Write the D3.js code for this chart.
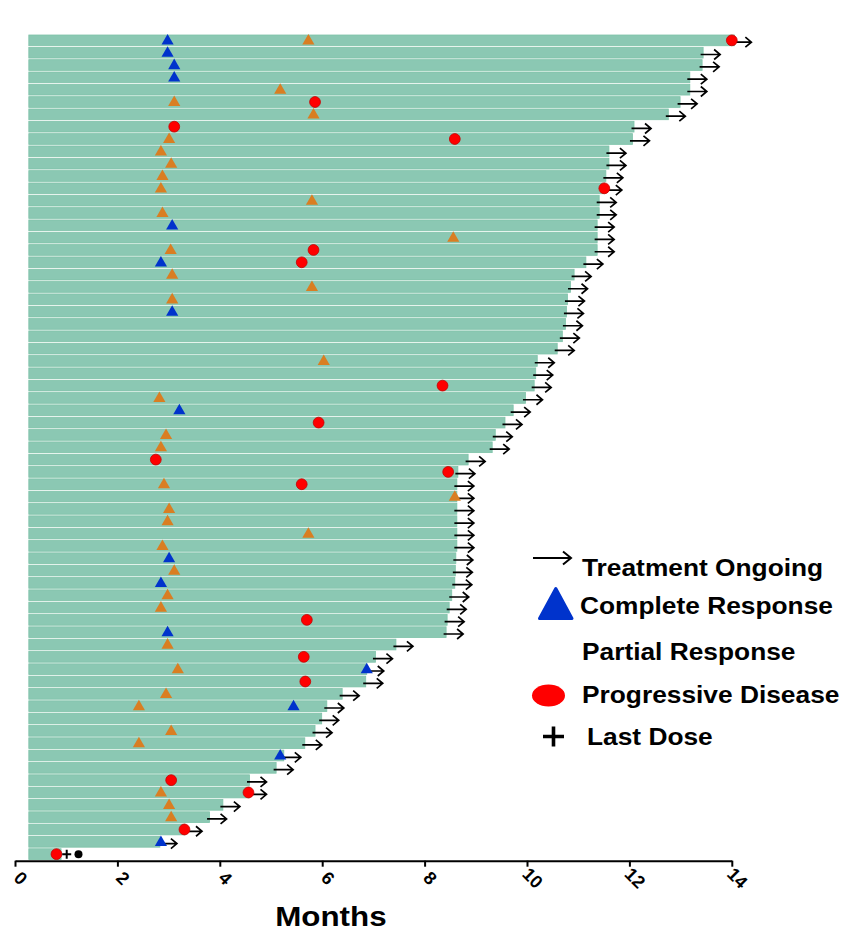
<!DOCTYPE html>
<html>
<head>
<meta charset="utf-8">
<script src="https://cdn.jsdelivr.net/npm/d3@7"></script>
<style>
  html, body { margin: 0; padding: 0; background: #fff; }
  svg { display: block; }
  text { font-family: "Liberation Sans", Arial, Helvetica, sans-serif; font-weight: bold; fill: #000; }
</style>
</head>
<body>
<svg id="chart" width="844" height="932"></svg>
<script>
// Months on study per subject, longest first (one bar per subject)
const duration = [
  14.05, 13.44, 13.42, 13.18, 13.18, 12.99, 12.76, 12.09, 12.06, 11.60,
  11.60, 11.54, 11.52, 11.41, 11.41, 11.37, 11.37, 11.37, 11.15, 10.92,
  10.85, 10.79, 10.77, 10.75, 10.69, 10.59, 10.20, 10.17, 10.14, 9.97,
  9.73, 9.57, 9.38, 9.32, 8.85, 8.65, 8.63, 8.63, 8.63, 8.63,
  8.63, 8.63, 8.61, 8.60, 8.59, 8.53, 8.48, 8.44, 8.42, 7.44,
  7.04, 6.87, 6.85, 6.39, 6.09, 5.99, 5.86, 5.66, 5.25, 5.10,
  4.58, 4.58, 4.06, 3.80, 3.32, 2.83, 0.90
];

// 1 = treatment still ongoing at data cut-off
const ongoing = [
  1,1,1,1,1,1,1,1,1,1, 1,1,1,1,1,1,1,1,1,1,
  1,1,1,1,1,1,1,1,1,1, 1,1,1,1,1,1,1,1,1,1,
  1,1,1,1,1,1,1,1,1,1, 1,1,1,1,1,1,1,1,1,1,
  1,1,1,1,1,1,0
];

// Response events: [subject row, month]
const completeResponse = [
  [0, 2.98], [1, 2.98], [2, 3.11], [3, 3.11], [15, 3.07], [18, 2.85],
  [22, 3.07], [30, 3.21], [42, 3.01], [44, 2.85], [48, 2.98], [51, 6.87],
  [54, 5.44], [58, 5.18], [65, 2.85]
];

const partialResponse = [
  [0, 5.73], [4, 5.18], [5, 3.11], [6, 5.83], [8, 3.01], [9, 2.85],
  [10, 3.05], [11, 2.88], [12, 2.85], [13, 5.80], [14, 2.88], [16, 8.56],
  [17, 3.04], [19, 3.07], [20, 5.80], [21, 3.07], [26, 6.03], [29, 2.82],
  [32, 2.95], [33, 2.85], [36, 2.91], [37, 8.59], [38, 3.01], [39, 2.98],
  [40, 5.73], [41, 2.88], [43, 3.11], [45, 2.98], [46, 2.85], [49, 2.98],
  [51, 3.18], [53, 2.95], [54, 2.42], [56, 3.05], [57, 2.42], [61, 2.85],
  [62, 3.01], [63, 3.05]
];

const progressiveDisease = [
  [0, 14.0], [5, 5.86], [7, 3.11], [8, 8.59], [12, 11.51], [17, 5.83],
  [18, 5.60], [28, 8.35], [31, 5.93], [34, 2.75], [35, 8.46], [36, 5.60],
  [47, 5.70], [50, 5.64], [52, 5.67], [60, 3.05], [61, 4.56], [64, 3.31],
  [66, 0.81]
];

const lastDose = [[66, 1.01]];
const offStudy = [[66, 1.24]];

const barStart = 0.27;   // bars begin just right of the origin
const xTicks = [0, 2, 4, 6, 8, 10, 12, 14];

const legendItems = [
  "Treatment Ongoing",
  "Complete Response",
  "Partial Response",
  "Progressive Disease",
  "Last Dose"
];

// ---- colours
const barFill = "#8bc8b3";
const barEdge = "#7ec2a8";
const crColor = "#0033cc";
const prColor = "#d97e22";
const pdColor = "#ff0000";
const pdEdge  = "#c40000";

const svg = d3.select("#chart");
const stretch = 1.12; // wide bold lettering

const x = d3.scaleLinear().domain([0, 14]).range([15, 731.8]);
const y = d3.scaleBand()
  .domain(d3.range(duration.length))
  .range([35, 859.5])
  .paddingInner(0.13);

const rowMid = i => y(i) + y.bandwidth() / 2;

// ---- bars
svg.append("g").selectAll("rect")
  .data(duration)
  .join("rect")
  .attr("x", x(barStart))
  .attr("y", (d, i) => y(i))
  .attr("width", d => x(d) - x(barStart))
  .attr("height", y.bandwidth())
  .attr("fill", barFill)
  .attr("stroke", barEdge)
  .attr("stroke-width", 0.8);

// ---- ongoing arrows
const arrowG = svg.append("g")
  .attr("stroke", "#000")
  .attr("fill", "none")
  .attr("stroke-width", 1.7)
  .attr("stroke-linecap", "butt");

duration.forEach((d, i) => {
  if (!ongoing[i]) return;
  const x0 = x(d) - 2.5, x1 = x(d) + 17, yy = rowMid(i) + 1.8;
  arrowG.append("path")
    .attr("d", `M${x0},${yy}H${x1}M${x1 - 6},${yy - 5}L${x1},${yy}L${x1 - 6},${yy + 5}`);
});

// ---- response markers
const tri = d3.symbol().type(d3.symbolTriangle).size(64);

svg.append("g").selectAll("path")
  .data(partialResponse)
  .join("path")
  .attr("d", tri)
  .attr("transform", d => `translate(${x(d[1])},${rowMid(d[0]) + 0.6})`)
  .attr("fill", prColor);

svg.append("g").selectAll("path")
  .data(completeResponse)
  .join("path")
  .attr("d", tri)
  .attr("transform", d => `translate(${x(d[1])},${rowMid(d[0]) + 0.6})`)
  .attr("fill", crColor);

svg.append("g").selectAll("circle")
  .data(progressiveDisease)
  .join("circle")
  .attr("cx", d => x(d[1]))
  .attr("cy", d => rowMid(d[0]))
  .attr("r", 5.4)
  .attr("fill", pdColor)
  .attr("stroke", pdEdge)
  .attr("stroke-width", 0.8);

svg.append("g").selectAll("path")
  .data(lastDose)
  .join("path")
  .attr("d", d => {
    const cx = x(d[1]), cy = rowMid(d[0]);
    return `M${cx - 4.5},${cy}H${cx + 4.5}M${cx},${cy - 4.5}V${cy + 4.5}`;
  })
  .attr("stroke", "#000")
  .attr("stroke-width", 2);

svg.append("g").selectAll("circle")
  .data(offStudy)
  .join("circle")
  .attr("cx", d => x(d[1]))
  .attr("cy", d => rowMid(d[0]))
  .attr("r", 4)
  .attr("fill", "#000");

// ---- x axis
const axis = svg.append("g")
  .attr("transform", "translate(0,860.7)")
  .call(d3.axisBottom(x).tickValues(xTicks).tickSize(6).tickSizeOuter(0).tickFormat(d3.format("d")));

axis.select(".domain").attr("stroke", "#000").attr("stroke-width", 2);
axis.selectAll(".tick line").attr("stroke", "#000").attr("stroke-width", 2);
axis.selectAll(".tick text")
  .attr("font-size", 18)
  .attr("font-family", "'Liberation Sans', Arial, sans-serif")
  .attr("font-weight", "bold")
  .attr("fill", "#000")
  .attr("text-anchor", "middle")
  .attr("dominant-baseline", "central")
  .attr("dy", null)
  .attr("y", 0)
  .attr("transform", "translate(5,17.5) rotate(45)");

svg.append("text")
  .attr("transform", `translate(${x(6.17)},925.5) scale(${stretch},1)`)
  .attr("text-anchor", "middle")
  .attr("font-size", 28)
  .text("Months");

// ---- legend
const lg = svg.append("g");

lg.append("path")
  .attr("d", "M533,558H571M563,551.5L571,558L563,564.5")
  .attr("stroke", "#000").attr("stroke-width", 2).attr("fill", "none");

lg.append("path")
  .attr("d", "M555.8,588.5L572,618.5L539.5,618.5Z")
  .attr("fill", crColor)
  .attr("stroke", crColor)
  .attr("stroke-width", 3)
  .attr("stroke-linejoin", "round");

lg.append("ellipse")
  .attr("cx", 548.5).attr("cy", 695.5)
  .attr("rx", 16.5).attr("ry", 11)
  .attr("fill", pdColor);

lg.append("path")
  .attr("d", "M543,736.5H564M553.5,726.5V746.5")
  .attr("stroke", "#000").attr("stroke-width", 3.6);

const legendPos = [[582, 576], [580, 614], [582, 660], [582, 703], [587, 745]];
lg.selectAll("text.item")
  .data(legendItems)
  .join("text")
  .attr("class", "item")
  .attr("transform", (d, i) => `translate(${legendPos[i][0]},${legendPos[i][1]}) scale(${stretch},1)`)
  .attr("font-size", 23.5)
  .text(d => d);
</script>
</body>
</html>
